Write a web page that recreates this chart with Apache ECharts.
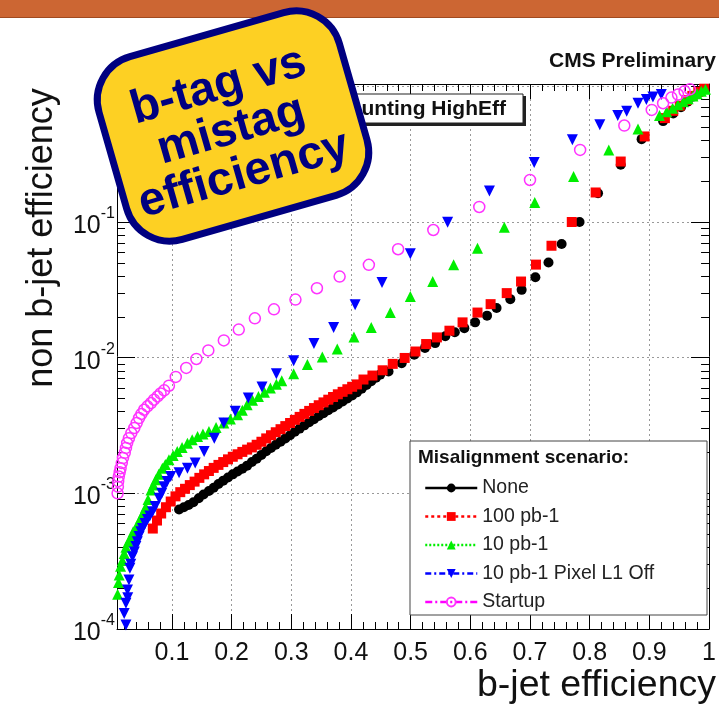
<!DOCTYPE html>
<html><head><meta charset="utf-8">
<script src="https://cdn.jsdelivr.net/npm/echarts@6/dist/echarts.min.js"></script>
<style>html,body{margin:0;padding:0;background:#fff}#c{width:719px;height:704px}</style>
</head><body><div id="c"></div>
<script>
// ---------- data (b-jet efficiency, non b-jet efficiency) ----------
const seriesNames = ['None', '100 pb-1', '10 pb-1', '10 pb-1 Pixel L1 Off', 'Startup'];
const noneEff = [[0.112,0.00076],[0.12,0.00079],[0.128,0.00082],[0.136,0.00086],[0.145,0.00092],[0.153,0.00098],[0.162,0.00104],[0.17,0.0011],[0.178,0.00117],[0.186,0.00124],[0.194,0.00131],[0.202,0.00138],[0.21,0.00145],[0.218,0.00152],[0.226,0.0016],[0.234,0.0017],[0.242,0.0018],[0.25,0.00192],[0.258,0.00204],[0.266,0.00216],[0.274,0.00228],[0.282,0.0024],[0.29,0.00254],[0.298,0.00268],[0.306,0.00284],[0.314,0.003],[0.322,0.00317],[0.33,0.00334],[0.338,0.00352],[0.346,0.00371],[0.354,0.0039],[0.362,0.0041],[0.37,0.0043],[0.378,0.00452],[0.386,0.00475],[0.394,0.005],[0.402,0.00526],[0.41,0.00555],[0.418,0.0059],[0.426,0.0063],[0.434,0.0067],[0.442,0.0071],[0.449,0.0075],[0.463,0.0079],[0.485,0.0091],[0.506,0.0105],[0.524,0.0118],[0.541,0.0128],[0.558,0.0144],[0.574,0.0154],[0.59,0.0165],[0.608,0.0182],[0.628,0.0204],[0.644,0.0232],[0.667,0.027],[0.686,0.0316],[0.709,0.0392],[0.731,0.0502],[0.753,0.0688],[0.783,0.1],[0.814,0.163],[0.852,0.264],[0.887,0.408],[0.923,0.554],[0.94,0.63],[0.953,0.7],[0.964,0.77],[0.974,0.84],[0.984,0.9],[0.993,0.95]];
const pb100Eff = [[0.068,0.00055],[0.075,0.00063],[0.082,0.00071],[0.09,0.00079],[0.098,0.00087],[0.106,0.00095],[0.114,0.00102],[0.122,0.00108],[0.13,0.00115],[0.138,0.00122],[0.146,0.0013],[0.154,0.00138],[0.162,0.00146],[0.17,0.00154],[0.178,0.00162],[0.186,0.0017],[0.194,0.00178],[0.202,0.00186],[0.21,0.00194],[0.218,0.00202],[0.226,0.0021],[0.234,0.00218],[0.242,0.00228],[0.25,0.0024],[0.258,0.00254],[0.266,0.00268],[0.274,0.00282],[0.282,0.00297],[0.29,0.00313],[0.298,0.0033],[0.306,0.00348],[0.314,0.00366],[0.322,0.00385],[0.33,0.00405],[0.338,0.00425],[0.346,0.00446],[0.354,0.00468],[0.362,0.0049],[0.37,0.00513],[0.378,0.00537],[0.386,0.0056],[0.394,0.00585],[0.402,0.0061],[0.41,0.00635],[0.421,0.0069],[0.436,0.00738],[0.453,0.00807],[0.47,0.009],[0.49,0.00995],[0.508,0.0111],[0.526,0.0126],[0.544,0.0141],[0.565,0.0158],[0.587,0.0182],[0.612,0.0215],[0.634,0.0248],[0.661,0.0299],[0.685,0.0364],[0.71,0.0485],[0.736,0.0668],[0.77,0.1],[0.81,0.165],[0.852,0.279],[0.892,0.427],[0.926,0.583],[0.94,0.66],[0.951,0.72],[0.962,0.79],[0.972,0.85],[0.982,0.91],[0.992,0.96]];
const pb10Eff = [[0.009,0.00018],[0.0105,0.00022],[0.0117,0.00025],[0.014,0.00029],[0.017,0.00032],[0.02,0.00036],[0.023,0.0004],[0.027,0.00044],[0.031,0.00047],[0.035,0.00052],[0.04,0.00056],[0.044,0.00061],[0.048,0.00066],[0.052,0.00072],[0.056,0.00079],[0.06,0.0009],[0.065,0.00106],[0.069,0.00115],[0.073,0.00126],[0.078,0.00138],[0.084,0.00153],[0.089,0.00163],[0.095,0.00177],[0.102,0.0019],[0.109,0.00203],[0.117,0.00218],[0.126,0.00234],[0.134,0.00248],[0.143,0.00262],[0.152,0.00274],[0.162,0.00286],[0.174,0.00306],[0.187,0.0033],[0.198,0.00353],[0.21,0.00379],[0.218,0.0041],[0.226,0.0045],[0.235,0.00485],[0.245,0.00518],[0.255,0.00556],[0.265,0.00597],[0.275,0.00637],[0.284,0.00676],[0.304,0.0076],[0.327,0.0089],[0.352,0.0101],[0.377,0.0116],[0.405,0.0142],[0.434,0.0167],[0.466,0.0215],[0.4995,0.0282],[0.537,0.0364],[0.572,0.0483],[0.612,0.064],[0.657,0.0914],[0.708,0.139],[0.773,0.216],[0.832,0.34],[0.881,0.484],[0.917,0.61],[0.929,0.65],[0.939,0.69],[0.948,0.73],[0.957,0.77],[0.965,0.81],[0.973,0.85],[0.98,0.88],[0.987,0.92],[0.994,0.95]];
const pixelOffEff = [[0.023,0.000107],[0.02,0.00013],[0.023,0.000155],[0.026,0.00017],[0.0256,0.000194],[0.028,0.00023],[0.0296,0.00028],[0.031,0.0003],[0.034,0.000341],[0.037,0.00037],[0.0396,0.000405],[0.042,0.00044],[0.045,0.00048],[0.048,0.00052],[0.0507,0.00055],[0.055,0.0006],[0.059,0.00064],[0.063,0.00068],[0.0675,0.00073],[0.072,0.0008],[0.0786,0.00092],[0.083,0.001],[0.087,0.00112],[0.092,0.00122],[0.098,0.00133],[0.112,0.00142],[0.126,0.00153],[0.139,0.00167],[0.154,0.00203],[0.171,0.00255],[0.187,0.0033],[0.206,0.00402],[0.228,0.00504],[0.251,0.00608],[0.275,0.0076],[0.304,0.0095],[0.338,0.0127],[0.371,0.0167],[0.407,0.0245],[0.452,0.0358],[0.4995,0.0584],[0.562,0.0995],[0.632,0.169],[0.707,0.274],[0.771,0.404],[0.817,0.52],[0.847,0.61],[0.862,0.655],[0.881,0.75],[0.895,0.8],[0.906,0.835],[0.92,0.87]];
const startupEff = [[0.009,0.001],[0.0095,0.00112],[0.01,0.00123],[0.011,0.00133],[0.0125,0.00143],[0.014,0.00153],[0.016,0.00167],[0.018,0.00182],[0.021,0.00199],[0.023,0.00216],[0.025,0.00235],[0.028,0.00255],[0.032,0.00278],[0.037,0.00303],[0.041,0.0033],[0.045,0.00359],[0.049,0.00385],[0.0535,0.00413],[0.059,0.00438],[0.065,0.00463],[0.07,0.0049],[0.076,0.00518],[0.081,0.00545],[0.087,0.00574],[0.095,0.00621],[0.1065,0.00721],[0.124,0.0084],[0.141,0.00978],[0.161,0.0113],[0.187,0.0134],[0.212,0.0161],[0.239,0.0195],[0.271,0.0227],[0.307,0.0268],[0.343,0.0325],[0.381,0.0396],[0.43,0.0483],[0.479,0.063],[0.538,0.0873],[0.615,0.129],[0.70,0.204],[0.784,0.34],[0.858,0.514],[0.904,0.67],[0.923,0.75],[0.937,0.826],[0.948,0.87],[0.959,0.92],[0.968,0.95]];

// ---------- tick labels ----------
const xTickLabels = [0.1, 0.2, 0.3, 0.4, 0.5, 0.6, 0.7, 0.8, 0.9, 1];
const yTickLabels = [1e-4, 1e-3, 1e-2, 1e-1];

// ---------- axis ranges / minor ticks ----------
const X_MIN = 0.008, X_MAX = 1.0, Y_MIN = 1e-4, Y_MAX = 1.04;
const xMinor = [];
for (let i = 1; i < 50; i++) { if (i % 5 !== 0) xMinor.push(+(i * 0.02).toFixed(3)); }
const yMinor = [];
for (let e = -4; e <= -1; e++) for (let k = 2; k <= 9; k++) yMinor.push(+(k * Math.pow(10, e)).toPrecision(3));

const FONT = '"Liberation Sans", Arial, Helvetica, sans-serif';
const chart = echarts.init(document.getElementById('c'), null, {renderer: 'canvas'});

function xAx(pos, major, showLabel) {
  return {
    type: 'value', position: pos, min: X_MIN, max: X_MAX, gridIndex: 0,
    axisLine: {show: major, onZero: false, lineStyle: {color: '#000', width: 1}},
    axisTick: {show: true, inside: true, length: major ? 15 : 7, customValues: major ? xTickLabels : xMinor, lineStyle: {color: '#000', width: 1}},
    axisLabel: {show: showLabel, customValues: xTickLabels, fontSize: 25, color: '#111', fontFamily: FONT, margin: 12,
      formatter: v => String(Math.round(v * 10) / 10)},
    splitLine: {show: showLabel, lineStyle: {type: [2, 3], color: '#999', width: 1}}
  };
}
function yAx(pos, major, showLabel) {
  return {
    type: 'log', logBase: 10, position: pos, min: Y_MIN, max: Y_MAX, gridIndex: 0,
    axisLine: {show: major, onZero: false, lineStyle: {color: '#000', width: 1}},
    axisTick: major ? {show: true, inside: true, length: 18, customValues: yTickLabels.concat([1]), lineStyle: {color: '#000'}}
                    : {show: true, inside: true, length: 8, customValues: yMinor, lineStyle: {color: '#000'}},
    axisLabel: {show: showLabel, customValues: yTickLabels, margin: 2, fontFamily: FONT, color: '#111',
      formatter: v => '{b|10}{s|' + Math.round(Math.log10(v)) + '}',
      rich: {b: {fontSize: 25, fontFamily: FONT, color: '#111', verticalAlign: 'bottom', padding: [8, 0, 0, 0]},
             s: {fontSize: 16, fontFamily: FONT, color: '#111', verticalAlign: 'top'}}},
    splitLine: {show: showLabel, lineStyle: {type: [2, 3], color: '#999', width: 1}}
  };
}

function mk(name, data, symbol, color, size, extra) {
  return Object.assign({
    type: 'line', name: name, data: data, xAxisIndex: 0, yAxisIndex: 0,
    symbol: symbol, symbolSize: size, showSymbol: true, showAllSymbol: true,
    lineStyle: {width: 0, opacity: 0}, itemStyle: {color: color},
    emphasis: {disabled: true}, animation: false, silent: true
  }, extra || {});
}

const option = {
  backgroundColor: '#fff',
  animation: false,
  grid: {left: 117, right: 5, top: 84, bottom: 75, containLabel: false},
  xAxis: [xAx('bottom', true, true), xAx('top', true, false), xAx('bottom', false, false), xAx('top', false, false)],
  yAxis: [yAx('left', true, true), yAx('right', true, false), yAx('left', false, false), yAx('right', false, false)],
  legend: {
    orient: 'vertical', left: 419, top: 473, itemWidth: 52, itemHeight: 11, itemGap: 8.5,
    selectedMode: false,
    textStyle: {fontSize: 19.5, color: '#222', fontFamily: FONT, lineHeight: 20},
    data: [
      {name: seriesNames[0], lineStyle: {width: 2.5, type: 'solid', color: '#000', opacity: 1}},
      {name: seriesNames[1], lineStyle: {width: 2.5, type: [3, 3], color: '#ff0000', opacity: 1}},
      {name: seriesNames[2], lineStyle: {width: 2.5, type: [2, 2], color: '#00ee00', opacity: 1}},
      {name: seriesNames[3], lineStyle: {width: 2.5, type: [6, 3, 2, 3], color: '#0000ff', opacity: 1}},
      {name: seriesNames[4], lineStyle: {width: 2.5, type: [7, 3, 2, 3], color: '#ff00ff', opacity: 1}}
    ]
  },
  series: [
    mk(seriesNames[0], noneEff, 'circle', '#000000', 10),
    mk(seriesNames[1], pb100Eff, 'rect', '#ff0000', 10),
    mk(seriesNames[2], pb10Eff, 'triangle', '#00ee00', 11),
    mk(seriesNames[3], pixelOffEff, 'triangle', '#0000ff', 11, {symbolRotate: 180}),
    mk(seriesNames[4], startupEff, 'circle', '#ff00ff', 11,
       {itemStyle: {color: 'rgba(255,255,255,0)', borderColor: '#ff33ff', borderWidth: 1.5}})
  ],
  graphic: [
    {type: 'rect', z: 50, shape: {x: 0, y: 0, width: 719, height: 17}, style: {fill: '#cc6633'}},
    {type: 'rect', z: 50, shape: {x: 0, y: 17, width: 719, height: 1}, style: {fill: '#a04a20'}},
    {type: 'text', z: 10, x: 716, y: 61, style: {text: 'CMS Preliminary', align: 'right', verticalAlign: 'middle',
      fontSize: 21, fontWeight: 'bold', fontFamily: FONT, fill: '#111'}},
    {type: 'text', z: 10, x: 42, y: 238, rotation: Math.PI / 2, style: {text: 'non b-jet efficiency', align: 'center',
      verticalAlign: 'middle', fontSize: 36, fontFamily: FONT, fill: '#111'}},
    {type: 'text', z: 10, x: 716, y: 686, style: {text: 'b-jet efficiency', align: 'right', verticalAlign: 'middle',
      fontSize: 37.5, fontFamily: FONT, fill: '#111'}},
    // legend frame + header
    {type: 'rect', z: 3, shape: {x: 410, y: 441, width: 297, height: 174}, style: {fill: '#fff', stroke: '#444', lineWidth: 1}},
    {type: 'text', z: 5, x: 418, y: 458, style: {text: 'Misalignment scenario:', verticalAlign: 'middle',
      fontSize: 19, fontWeight: 'bold', fontFamily: FONT, fill: '#111'}},
    // algorithm label box
    {type: 'rect', z: 3, shape: {x: 252, y: 96, width: 274, height: 30}, style: {fill: '#222'}},
    {type: 'rect', z: 4, shape: {x: 250, y: 94, width: 273, height: 29}, style: {fill: '#fff', stroke: '#222', lineWidth: 1}},
    {type: 'text', z: 5, x: 506, y: 109, style: {text: 'Track Counting HighEff', align: 'right', verticalAlign: 'middle',
      fontSize: 21, fontWeight: 'bold', fontFamily: FONT, fill: '#111'}},
    // badge
    {type: 'group', z: 100, x: 233, y: 126, rotation: 16 * Math.PI / 180, children: [
      {type: 'rect', z: 100, shape: {x: -125, y: -95, width: 250, height: 190, r: 45},
       style: {fill: '#fdd023', stroke: '#000080', lineWidth: 7}},
      {type: 'text', z: 101, x: -3, y: 4, style: {text: 'b-tag vs\nmistag\nefficiency', align: 'center', verticalAlign: 'middle',
       fontSize: 47, fontWeight: 'bold', fontFamily: FONT, fill: '#000080', lineHeight: 46}}
    ]}
  ]
};
chart.setOption(option);
</script>
</body></html>
